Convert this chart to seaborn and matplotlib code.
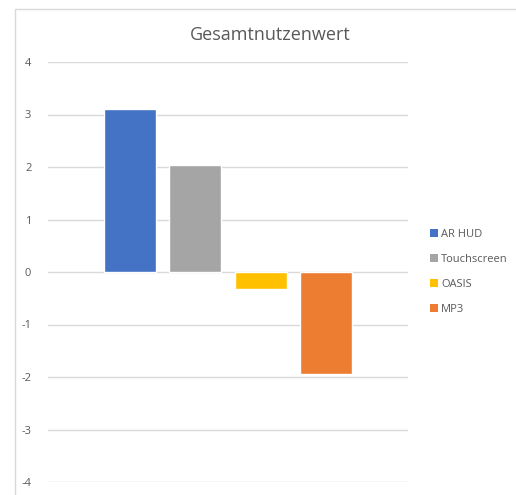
import numpy as np
import pandas as pd
import matplotlib
matplotlib.use("Agg")
import matplotlib.pyplot as plt
from matplotlib.patches import Rectangle, Patch
import seaborn as sns

# Daten
series = ["AR HUD", "Touchscreen", "OASIS", "MP3"]
values = [3.10, 2.04, -0.33, -1.94]
colors = ["#4472C4", "#A5A5A5", "#FFC000", "#ED7D31"]
yticks = [-4, -3, -2, -1, 0, 1, 2, 3, 4]

df = pd.DataFrame({"Serie": series, "Wert": values})

sns.set_theme(style="white")
plt.rcParams['font.family'] = ['Open Sans', 'DejaVu Sans']

W, H = 516, 495
fig = plt.figure(figsize=(W / 100, H / 100), dpi=100)
ax = fig.add_axes([48 / W, 1 - 482 / H, 360 / W, 420 / H])

sns.barplot(data=df, x="Serie", y="Wert", hue="Serie", palette=colors,
            width=0.79, saturation=1, legend=False, ax=ax, zorder=3)

ax.set_ylim(-4, 4)
ax.set_xlim(-1.25, 4.25)
ax.set_yticks(yticks)
ax.set_yticklabels([str(t) for t in yticks], color="#595959", fontsize=8)
ax.set_xticks([])
ax.set_xlabel("")
ax.set_ylabel("")
ax.tick_params(axis="y", length=0, pad=12)
for s in ax.spines.values():
    s.set_visible(False)
for t in yticks:
    ax.axhline(t, color="#D9D9D9", lw=1, zorder=1)

# Rahmen des Diagramms
fig.patches.append(Rectangle((15 / W, -0.1), 1.2, 1 - 9 / H + 0.1,
                             transform=fig.transFigure, fill=False,
                             edgecolor="#D9D9D9", lw=1))

fig.text(270 / W, 1 - 35 / H, "Gesamtnutzenwert", ha="center", va="center",
         fontsize=13, color="#595959")

handles = [Patch(facecolor=c, edgecolor="none") for c in colors]
fig.legend(handles, series, loc="center left",
           bbox_to_anchor=(420 / W, 1 - 272 / H), frameon=False,
           handlelength=0.7, handleheight=0.7, handletextpad=0.3,
           labelspacing=1.25, fontsize=8, labelcolor="#595959")

fig.savefig("out.png", dpi=100)
